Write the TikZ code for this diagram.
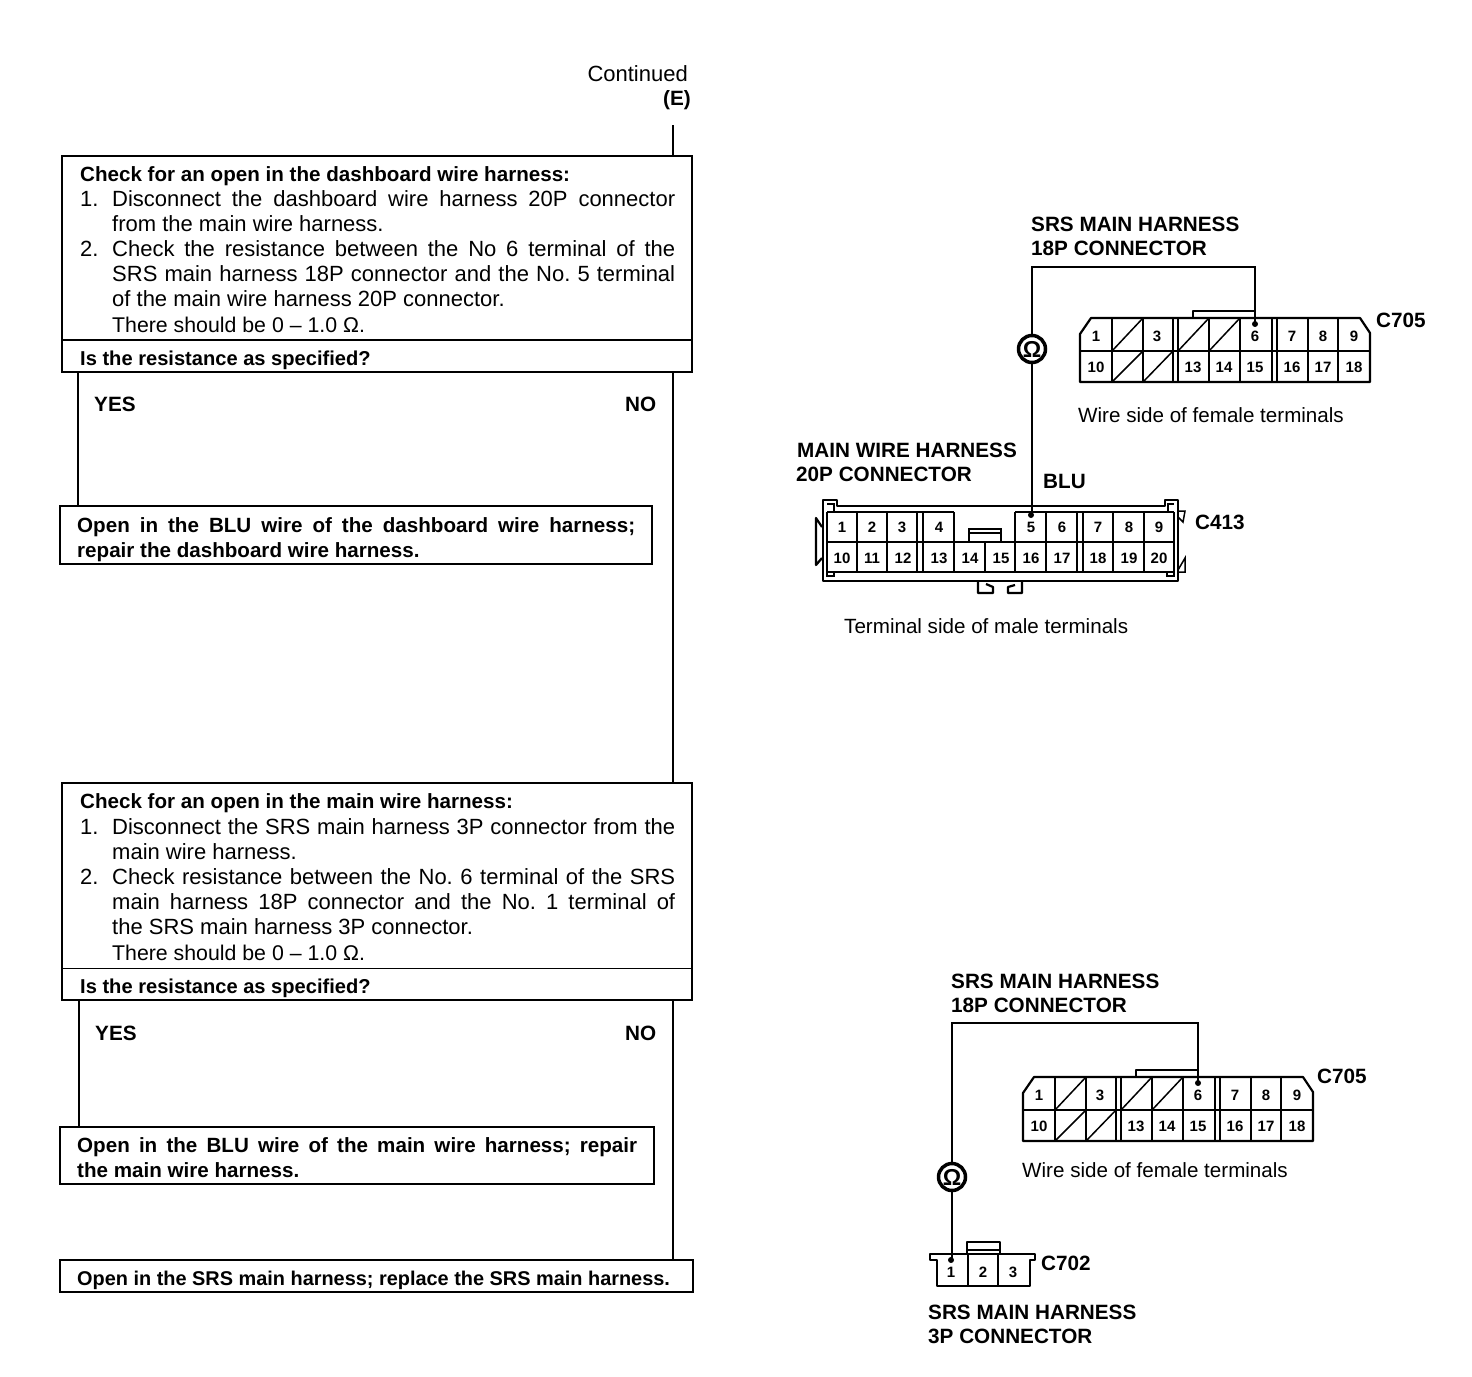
\documentclass[tikz,border=0pt]{standalone}
\usepackage{fontspec}
\setmainfont{Liberation Sans}
\frenchspacing
\newcommand{\itm}[2]{\makebox[595pt][s]{\makebox[32pt][l]{#1}#2}}
\newcommand{\cnt}[1]{\hspace*{32pt}\makebox[563pt][s]{#1}}
\newcommand{\cnl}[1]{\hspace*{32pt}#1}
\newcommand{\eighteen}{%
  \draw[conn] (0,25) -- (0,16) -- (11,0) -- (280,0) -- (290,15) -- (290,64) -- (0,64) -- cycle;
  \draw[conn] (0,33) -- (290,33);
  \foreach \x in {32,63,93,98,129,160,192,197,228,258}{\draw[cell] (\x,0) -- (\x,64);}
  \foreach \a/\b in {32/63,98/129,129/160}{\draw[cell] (\a,33) -- (\b,0);}
  \foreach \a/\b in {32/63,63/93}{\draw[cell] (\a,64) -- (\b,33);}
  \draw[conn] (113,0) -- (113,-7) -- (175,-7) -- (175,0);
  \foreach \n/\x in {1/16,3/77,6/175,7/212,8/243,9/274}{\node[pin] (p\n) at (\x,18) {\n};}
  \foreach \n/\x in {10/16,13/113,14/144,15/175,16/212,17/243,18/274}{\node[pin] (p\n) at (\x,49) {\n};}
  \node[dot] (dot) at (175,6) {};
}
\tikzset{
  x=1pt,y=-1pt,
  box/.style={draw,line width=1.7pt,inner sep=0,rectangle},
  wire/.style={line width=2.2pt},
  flow/.style={line width=1.7pt},
  conn/.style={line width=2.2pt,line join=round},
  cell/.style={line width=1.5pt},
  body/.style={font=\fontsize{22}{25.2}\selectfont,align=left,inner sep=0,anchor=north west},
  head/.style={font=\fontsize{20.6}{25}\selectfont\bfseries,align=left,inner sep=0,anchor=north west},
  ask/.style={head,font=\fontsize{20.1}{25}\selectfont\bfseries},
  lab/.style={font=\fontsize{20.6}{24}\selectfont,inner sep=0,anchor=base west},
  blab/.style={font=\fontsize{20.7}{24}\selectfont\bfseries,inner sep=0,anchor=base west},
  pin/.style={font=\fontsize{15}{15}\selectfont\bfseries,inner sep=0},
  dot/.style={circle,fill,inner sep=0,minimum size=6pt},
  ohm/.style={circle,draw,line width=3.5pt,minimum size=27pt,inner sep=0,font=\fontsize{23}{23}\selectfont\bfseries},
}
\begin{document}
\begin{tikzpicture}
\useasboundingbox (0,0) rectangle (1472,1376);
% header
\node[lab,anchor=base east,font=\fontsize{22}{24}\selectfont] (cont) at (688,81) {Continued};
\node[blab,anchor=base east] (ee) at (691,105) {(E)};
\coordinate (top) at (673,125);
% boxes
\node[box,minimum width=630pt,minimum height=216pt] (b1) at (377,264) {};
\node[box,minimum width=592pt,minimum height=58pt] (b2) at (356,535) {};
\node[box,minimum width=630pt,minimum height=217pt] (b3) at (377,891.5) {};
\node[box,minimum width=594pt,minimum height=57pt] (b4) at (357,1155.5) {};
\node[box,minimum width=633pt,minimum height=32pt] (b5) at (376.5,1276) {};
\coordinate (d1) at (0,340);
\coordinate (d3) at (0,968);
\draw[line width=1.5pt] (b1.west |- d1) -- (b1.east |- d1);
\draw[line width=1pt] (b3.west |- d3) -- (b3.east |- d3);
% text
\node[head] (t1a) at (80,166) {Check for an open in the dashboard wire harness:};
\node[body] (t1b) at (80,190) {\itm{1.}{Disconnect the dashboard wire harness 20P connector}\\
\cnl{from the main wire harness.}\\
\itm{2.}{Check the resistance between the No 6 terminal of the}\\
\cnt{SRS main harness 18P connector and the No. 5 terminal}\\
\cnl{of the main wire harness 20P connector.}\\
\cnl{\fontsize{21.3}{24.6}\selectfont There should be 0 -- 1.0 Ω.}};
\node[ask] (t1c) at (80,351) {Is the resistance as specified?};
\node[blab] (y1) at (94,411) {YES};
\node[blab] (n1) at (625,411) {NO};
\node[head] (t2) at (77,517) {\makebox[558pt][s]{Open in the BLU wire of the dashboard wire harness;}\\repair the dashboard wire harness.};
\node[head] (t3a) at (80,793.5) {Check for an open in the main wire harness:};
\node[body] (t3b) at (80,818) {\itm{1.}{Disconnect the SRS main harness 3P connector from the}\\
\cnl{main wire harness.}\\
\itm{2.}{Check resistance between the No. 6 terminal of the SRS}\\
\cnt{main harness 18P connector and the No. 1 terminal of}\\
\cnl{the SRS main harness 3P connector.}\\
\cnl{\fontsize{21.3}{25.2}\selectfont There should be 0 -- 1.0 Ω.}};
\node[ask] (t3c) at (80,979) {Is the resistance as specified?};
\node[blab] (y3) at (95,1040) {YES};
\node[blab] (n3) at (625,1040) {NO};
\node[head] (t4) at (77,1137) {\makebox[560pt][s]{Open in the BLU wire of the main wire harness; repair}\\the main wire harness.};
\node[head,font=\fontsize{19.9}{25}\selectfont\bfseries] (t5) at (77,1271) {Open in the SRS main harness; replace the SRS main harness.};
% flow lines
\coordinate (ly1) at (78,0);
\coordinate (ly3) at (79,0);
\draw[flow] (top) -- (top |- b1.north);
\draw[flow] (b1.south -| ly1) -- (b2.north -| ly1);
\draw[flow] (b1.south -| top) -- (b3.north -| top);
\draw[flow] (b3.south -| ly3) -- (b4.north -| ly3);
\draw[flow] (b3.south -| top) -- (b5.north -| top);
% upper 18P
\begin{scope}[shift={(1080,318)},name prefix=a-]
\eighteen
\end{scope}
\node[blab] (a1) at (1031,231) {SRS MAIN HARNESS};
\node[blab] (a2) at (1031,255) {18P CONNECTOR};
\node[blab] (a3) at (1376,327) {C705};
\node[lab] (a4) at (1078,422) {Wire side of female terminals};
\node[ohm] (om1) at (1032,349) {Ω};
\coordinate (at) at (1255,267);
\draw[flow] (om1.north) -- (om1.north |- at) -- (at) -- (a-dot.center);
% 20P
\node[blab] (m1) at (797,457) {MAIN WIRE HARNESS};
\node[blab] (m2) at (796,481) {20P CONNECTOR};
\node[blab] (m3) at (1043,488) {BLU};
\node[blab] (m4) at (1195,529) {C413};
\node[lab] (m5) at (844,633) {Terminal side of male terminals};
\begin{scope}[shift={(823,500)},name prefix=b-]
\draw[conn] (0,0) -- (0,81) -- (355,81) -- (355,0) -- (342,0) -- (342,6) -- (14,6) -- (14,0) -- cycle;
\draw[cell] (4,12) -- (4,76) -- (11,76) -- (11,72);
\draw[cell] (351,12) -- (351,76) -- (344,76) -- (344,72);
\draw[cell] (4,4) -- (11,4) -- (11,12);
\draw[cell] (351,4) -- (345,4) -- (345,12);
\draw[conn] (4,12) -- (131,12) (192,12) -- (351,12);
\draw[conn] (4,42) -- (351,42);
\draw[conn] (4,72) -- (351,72);
\foreach \x in {34,64,94,100,192,223,254,260,290,321}{\draw[cell] (\x,12) -- (\x,72);}
\draw[cell] (131,12) -- (131,72);
\draw[cell] (162,42) -- (162,72);
\draw[cell] (146,42) -- (146,29) -- (178,29) -- (178,42);
\draw[cell] (146,33) -- (178,33);
\draw[conn] (-1,27) -- (-7,18) -- (-7,65) -- (-1,58);
\draw[cell] (355,11) -- (362,11) -- (360,22) -- (355,17);
\draw[cell] (355,70) -- (362,58) -- (362,72) -- (355,72);
\draw[conn] (155,81) -- (155,93) -- (170,93) -- (170,87) -- (163,84);
\draw[conn] (199,81) -- (199,93) -- (185,93) -- (185,87) -- (192,85);
\foreach \n/\x in {1/19,2/49,3/79,4/116,5/208,6/239,7/275,8/306,9/336}{\node[pin] (p\n) at (\x,27) {\n};}
\foreach \n/\x in {10/19,11/49,12/80,13/116,14/147,15/178,16/208,17/239,18/275,19/306,20/336}{\node[pin] (p\n) at (\x,58) {\n};}
\node[dot] (dot) at (208,15) {};
\end{scope}
\draw[wire] (om1.south) -- (om1.south |- b-dot.center);
% lower 18P
\begin{scope}[shift={(1023,1077)},name prefix=c-]
\eighteen
\end{scope}
\node[blab] (c1) at (951,988) {SRS MAIN HARNESS};
\node[blab] (c2) at (951,1012) {18P CONNECTOR};
\node[blab] (c3) at (1317,1083) {C705};
\node[lab] (c4) at (1022,1177) {Wire side of female terminals};
\node[ohm] (om2) at (952,1177) {Ω};
\coordinate (ct) at (1198,1023);
\draw[flow] (om2.north) -- (om2.north |- ct) -- (ct) -- (c-dot.center);
% 3P
\begin{scope}[shift={(930,1254)},name prefix=d-]
\draw[conn] (0,0) -- (105,0) -- (105,6) -- (100,6) -- (100,32) -- (7,32) -- (7,6) -- (0,6) -- cycle;
\draw[cell] (38,0) -- (38,32) (68,0) -- (68,32);
\draw[conn] (37,0) -- (37,-12) -- (70,-12) -- (70,0);
\draw[cell] (37,-4) -- (70,-4);
\foreach \n/\x in {1/21,2/53,3/83}{\node[pin] (p\n) at (\x,18) {\n};}
\node[dot] (dot) at (21,6) {};
\end{scope}
\node[blab] (e1) at (1041,1270) {C702};
\node[blab] (e2) at (928,1319) {SRS MAIN HARNESS};
\node[blab] (e3) at (928,1343) {3P CONNECTOR};
\draw[wire] (om2.south) -- (om2.south |- d-dot.center);
\end{tikzpicture}
\end{document}
